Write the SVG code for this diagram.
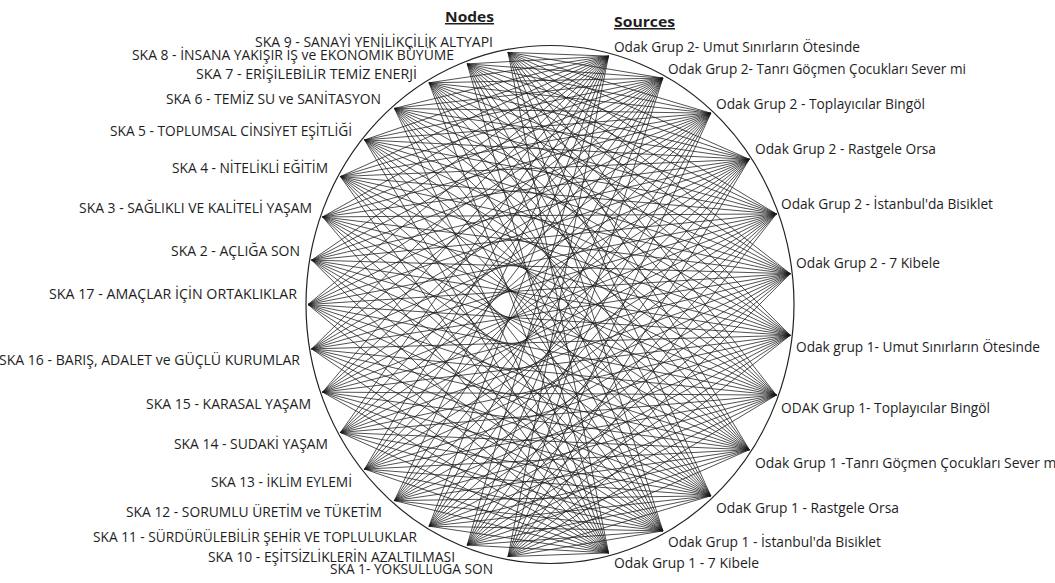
<svg xmlns="http://www.w3.org/2000/svg" width="1055" height="583" viewBox="0 0 1055 583">
<style>
.lbl{font-family:"Open Sans","Noto Sans","Liberation Sans",sans-serif;font-size:14px;fill:#1e1e1e}
.l{text-anchor:end}
.hd{font-family:"Open Sans","Noto Sans","Liberation Sans",sans-serif;font-size:15px;font-weight:bold;fill:#1e1e1e;text-decoration:underline}
.edge{fill:none;stroke:#1a1a1a;stroke-width:0.9;stroke-linejoin:round;stroke-opacity:0.85}
</style>
<rect width="1055" height="583" fill="#fff"/>
<ellipse cx="550" cy="304.5" rx="244" ry="259" fill="none" stroke="#222" stroke-width="1.2"/>
<g id="connectors">
<path class="edge" d="M608.5,56.1 L508,52.4 662.9,78.1 M710.8,113.2 L508,52.4 749.3,159.3 M776.3,213.9 L508,52.4 790.2,273.7 M790.2,335.3 L508,52.4 776.3,395.1 M749.3,449.7 L508,52.4 710.8,495.8 M662.9,530.9 L508,52.4 608.5,552.9"/>
<path class="edge" d="M608.5,56.1 L467.2,63.9 662.9,78.1 M710.8,113.2 L467.2,63.9 749.3,159.3 M776.3,213.9 L467.2,63.9 790.2,273.7 M790.2,335.3 L467.2,63.9 776.3,395.1 M749.3,449.7 L467.2,63.9 710.8,495.8 M662.9,530.9 L467.2,63.9 608.5,552.9"/>
<path class="edge" d="M608.5,56.1 L429,82.8 662.9,78.1 M710.8,113.2 L429,82.8 749.3,159.3 M776.3,213.9 L429,82.8 790.2,273.7 M790.2,335.3 L429,82.8 776.3,395.1 M749.3,449.7 L429,82.8 710.8,495.8 M662.9,530.9 L429,82.8 608.5,552.9"/>
<path class="edge" d="M608.5,56.1 L394.4,108.4 662.9,78.1 M710.8,113.2 L394.4,108.4 749.3,159.3 M776.3,213.9 L394.4,108.4 790.2,273.7 M790.2,335.3 L394.4,108.4 776.3,395.1 M749.3,449.7 L394.4,108.4 710.8,495.8 M662.9,530.9 L394.4,108.4 608.5,552.9"/>
<path class="edge" d="M608.5,56.1 L364.6,139.9 662.9,78.1 M710.8,113.2 L364.6,139.9 749.3,159.3 M776.3,213.9 L364.6,139.9 790.2,273.7 M790.2,335.3 L364.6,139.9 776.3,395.1 M749.3,449.7 L364.6,139.9 710.8,495.8 M662.9,530.9 L364.6,139.9 608.5,552.9"/>
<path class="edge" d="M608.5,56.1 L340.4,176.5 662.9,78.1 M710.8,113.2 L340.4,176.5 749.3,159.3 M776.3,213.9 L340.4,176.5 790.2,273.7 M790.2,335.3 L340.4,176.5 776.3,395.1 M749.3,449.7 L340.4,176.5 710.8,495.8 M662.9,530.9 L340.4,176.5 608.5,552.9"/>
<path class="edge" d="M608.5,56.1 L322.6,216.9 662.9,78.1 M710.8,113.2 L322.6,216.9 749.3,159.3 M776.3,213.9 L322.6,216.9 790.2,273.7 M790.2,335.3 L322.6,216.9 776.3,395.1 M749.3,449.7 L322.6,216.9 710.8,495.8 M662.9,530.9 L322.6,216.9 608.5,552.9"/>
<path class="edge" d="M608.5,56.1 L311.7,260.1 662.9,78.1 M710.8,113.2 L311.7,260.1 749.3,159.3 M776.3,213.9 L311.7,260.1 790.2,273.7 M790.2,335.3 L311.7,260.1 776.3,395.1 M749.3,449.7 L311.7,260.1 710.8,495.8 M662.9,530.9 L311.7,260.1 608.5,552.9"/>
<path class="edge" d="M608.5,56.1 L308,304.5 662.9,78.1 M710.8,113.2 L308,304.5 749.3,159.3 M776.3,213.9 L308,304.5 790.2,273.7 M790.2,335.3 L308,304.5 776.3,395.1 M749.3,449.7 L308,304.5 710.8,495.8 M662.9,530.9 L308,304.5 608.5,552.9"/>
<path class="edge" d="M608.5,56.1 L311.7,348.9 662.9,78.1 M710.8,113.2 L311.7,348.9 749.3,159.3 M776.3,213.9 L311.7,348.9 790.2,273.7 M790.2,335.3 L311.7,348.9 776.3,395.1 M749.3,449.7 L311.7,348.9 710.8,495.8 M662.9,530.9 L311.7,348.9 608.5,552.9"/>
<path class="edge" d="M608.5,56.1 L322.6,392.1 662.9,78.1 M710.8,113.2 L322.6,392.1 749.3,159.3 M776.3,213.9 L322.6,392.1 790.2,273.7 M790.2,335.3 L322.6,392.1 776.3,395.1 M749.3,449.7 L322.6,392.1 710.8,495.8 M662.9,530.9 L322.6,392.1 608.5,552.9"/>
<path class="edge" d="M608.5,56.1 L340.4,432.5 662.9,78.1 M710.8,113.2 L340.4,432.5 749.3,159.3 M776.3,213.9 L340.4,432.5 790.2,273.7 M790.2,335.3 L340.4,432.5 776.3,395.1 M749.3,449.7 L340.4,432.5 710.8,495.8 M662.9,530.9 L340.4,432.5 608.5,552.9"/>
<path class="edge" d="M608.5,56.1 L364.6,469.1 662.9,78.1 M710.8,113.2 L364.6,469.1 749.3,159.3 M776.3,213.9 L364.6,469.1 790.2,273.7 M790.2,335.3 L364.6,469.1 776.3,395.1 M749.3,449.7 L364.6,469.1 710.8,495.8 M662.9,530.9 L364.6,469.1 608.5,552.9"/>
<path class="edge" d="M608.5,56.1 L394.4,500.6 662.9,78.1 M710.8,113.2 L394.4,500.6 749.3,159.3 M776.3,213.9 L394.4,500.6 790.2,273.7 M790.2,335.3 L394.4,500.6 776.3,395.1 M749.3,449.7 L394.4,500.6 710.8,495.8 M662.9,530.9 L394.4,500.6 608.5,552.9"/>
<path class="edge" d="M608.5,56.1 L429,526.2 662.9,78.1 M710.8,113.2 L429,526.2 749.3,159.3 M776.3,213.9 L429,526.2 790.2,273.7 M790.2,335.3 L429,526.2 776.3,395.1 M749.3,449.7 L429,526.2 710.8,495.8 M662.9,530.9 L429,526.2 608.5,552.9"/>
<path class="edge" d="M608.5,56.1 L467.2,545.1 662.9,78.1 M710.8,113.2 L467.2,545.1 749.3,159.3 M776.3,213.9 L467.2,545.1 790.2,273.7 M790.2,335.3 L467.2,545.1 776.3,395.1 M749.3,449.7 L467.2,545.1 710.8,495.8 M662.9,530.9 L467.2,545.1 608.5,552.9"/>
<path class="edge" d="M608.5,56.1 L508,556.6 662.9,78.1 M710.8,113.2 L508,556.6 749.3,159.3 M776.3,213.9 L508,556.6 790.2,273.7 M790.2,335.3 L508,556.6 776.3,395.1 M749.3,449.7 L508,556.6 710.8,495.8 M662.9,530.9 L508,556.6 608.5,552.9"/>
</g>
<g id="headers">
<text class="hd" x="445" y="22" textLength="49" lengthAdjust="spacingAndGlyphs">Nodes</text>
<text class="hd" x="614" y="27" textLength="61" lengthAdjust="spacingAndGlyphs">Sources</text>
</g>
<g id="ska9"><text class="lbl l" x="493" y="47" textLength="238" lengthAdjust="spacingAndGlyphs">SKA 9 -  SANAYİ YENİLİKÇİLİK ALTYAPI</text></g>
<g id="ska8"><text class="lbl l" x="454" y="60" textLength="322" lengthAdjust="spacingAndGlyphs">SKA 8 - İNSANA YAKIŞIR İŞ ve EKONOMİK BÜYÜME</text></g>
<g id="ska7"><text class="lbl l" x="417" y="79" textLength="221" lengthAdjust="spacingAndGlyphs">SKA 7 -  ERİŞİLEBİLİR TEMİZ ENERJİ</text></g>
<g id="ska6"><text class="lbl l" x="381" y="104" textLength="215" lengthAdjust="spacingAndGlyphs">SKA 6 - TEMİZ SU ve SANİTASYON</text></g>
<g id="ska5"><text class="lbl l" x="352" y="136" textLength="242" lengthAdjust="spacingAndGlyphs">SKA 5 - TOPLUMSAL CİNSİYET EŞİTLİĞİ</text></g>
<g id="ska4"><text class="lbl l" x="328" y="173" textLength="156" lengthAdjust="spacingAndGlyphs">SKA 4 - NİTELİKLİ EĞİTİM</text></g>
<g id="ska3"><text class="lbl l" x="312" y="213" textLength="233" lengthAdjust="spacingAndGlyphs">SKA 3 - SAĞLIKLI VE KALİTELİ YAŞAM</text></g>
<g id="ska2"><text class="lbl l" x="300" y="256" textLength="129" lengthAdjust="spacingAndGlyphs">SKA 2 - AÇLIĞA SON</text></g>
<g id="ska17"><text class="lbl l" x="297" y="299" textLength="248" lengthAdjust="spacingAndGlyphs">SKA 17 -  AMAÇLAR İÇİN ORTAKLIKLAR</text></g>
<g id="ska16"><text class="lbl l" x="300" y="365" textLength="301" lengthAdjust="spacingAndGlyphs">SKA 16 - BARIŞ, ADALET ve GÜÇLÜ KURUMLAR</text></g>
<g id="ska15"><text class="lbl l" x="311" y="409" textLength="165" lengthAdjust="spacingAndGlyphs">SKA 15 - KARASAL YAŞAM</text></g>
<g id="ska14"><text class="lbl l" x="328" y="449" textLength="154" lengthAdjust="spacingAndGlyphs">SKA 14 - SUDAKİ YAŞAM</text></g>
<g id="ska13"><text class="lbl l" x="352" y="487" textLength="141" lengthAdjust="spacingAndGlyphs">SKA 13 - İKLİM EYLEMİ</text></g>
<g id="ska12"><text class="lbl l" x="382" y="517" textLength="256" lengthAdjust="spacingAndGlyphs">SKA 12 - SORUMLU ÜRETİM ve TÜKETİM</text></g>
<g id="ska11"><text class="lbl l" x="417" y="542" textLength="324" lengthAdjust="spacingAndGlyphs">SKA 11 - SÜRDÜRÜLEBİLİR ŞEHİR VE TOPLULUKLAR</text></g>
<g id="ska10"><text class="lbl l" x="455" y="562" textLength="247" lengthAdjust="spacingAndGlyphs">SKA 10 - EŞİTSİZLİKLERİN AZALTILMASI</text></g>
<g id="ska1"><text class="lbl l" x="493" y="574" textLength="163" lengthAdjust="spacingAndGlyphs">SKA 1- YOKSULLUĞA SON</text></g>
<g id="og2-umut"><text class="lbl" x="614" y="52" textLength="246" lengthAdjust="spacingAndGlyphs">Odak Grup 2- Umut Sınırların Ötesinde</text></g>
<g id="og2-tanri"><text class="lbl" x="668" y="74" textLength="298" lengthAdjust="spacingAndGlyphs">Odak Grup 2- Tanrı Göçmen Çocukları Sever mi</text></g>
<g id="og2-toplayicilar"><text class="lbl" x="716" y="109" textLength="209" lengthAdjust="spacingAndGlyphs">Odak Grup 2 - Toplayıcılar Bingöl</text></g>
<g id="og2-rastgele"><text class="lbl" x="755" y="154" textLength="181" lengthAdjust="spacingAndGlyphs">Odak Grup 2 - Rastgele Orsa</text></g>
<g id="og2-istanbul"><text class="lbl" x="781" y="209" textLength="212" lengthAdjust="spacingAndGlyphs">Odak Grup 2 - İstanbul'da Bisiklet</text></g>
<g id="og2-kibele"><text class="lbl" x="796" y="268" textLength="144" lengthAdjust="spacingAndGlyphs">Odak Grup 2 - 7 Kibele</text></g>
<g id="og1-umut"><text class="lbl" x="796" y="352" textLength="244" lengthAdjust="spacingAndGlyphs">Odak grup 1- Umut Sınırların Ötesinde</text></g>
<g id="og1-toplayicilar"><text class="lbl" x="781" y="413" textLength="209" lengthAdjust="spacingAndGlyphs">ODAK Grup 1- Toplayıcılar Bingöl</text></g>
<g id="og1-tanri"><text class="lbl" x="755" y="468" textLength="305" lengthAdjust="spacingAndGlyphs">Odak Grup 1 -Tanrı Göçmen Çocukları Sever mi</text></g>
<g id="og1-rastgele"><text class="lbl" x="716" y="513" textLength="183" lengthAdjust="spacingAndGlyphs">OdaK Grup 1 - Rastgele Orsa</text></g>
<g id="og1-istanbul"><text class="lbl" x="668" y="547" textLength="213" lengthAdjust="spacingAndGlyphs">Odak Grup 1 - İstanbul'da Bisiklet</text></g>
<g id="og1-kibele"><text class="lbl" x="614" y="568" textLength="145" lengthAdjust="spacingAndGlyphs">Odak Grup 1 - 7 Kibele</text></g>
</svg>
